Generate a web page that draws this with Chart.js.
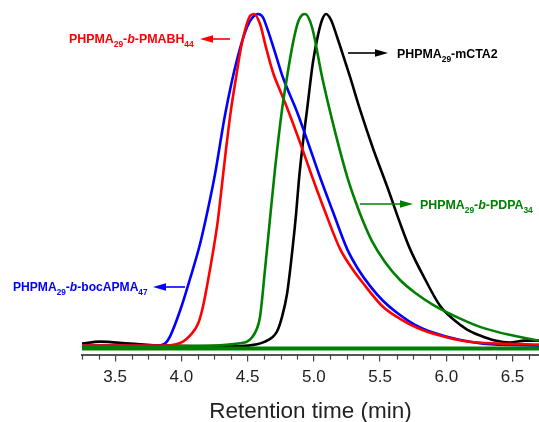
<!DOCTYPE html>
<html>
<head>
<meta charset="utf-8">
<script src="https://cdn.jsdelivr.net/npm/chart.js@4/dist/chart.umd.min.js"></script>
<style>
  body { margin: 0; background: #fff; }
  canvas { display: block; }
</style>
</head>
<body>
<canvas id="myChart" width="539" height="422"></canvas>
<script>
// retention time (min) and normalised detector signal
var pmabhTime = [3.25, 3.612, 3.877, 3.952, 4.012, 4.065, 4.126, 4.163, 4.194, 4.239, 4.277, 4.307, 4.337, 4.375, 4.413, 4.450, 4.481, 4.518, 4.549, 4.594, 4.639, 4.692, 4.745, 4.798, 4.896, 4.986, 5.092, 5.198, 5.281, 5.371, 5.522, 5.651, 5.779, 5.953, 6.157, 6.406, 6.70];
var pmabhVal = [0.009, 0.009, 0.009, 0.012, 0.021, 0.039, 0.074, 0.125, 0.1875, 0.289, 0.387, 0.491, 0.595, 0.714, 0.810, 0.899, 0.952, 0.994, 1.0, 0.970, 0.900, 0.825, 0.771, 0.720, 0.616, 0.515, 0.402, 0.298, 0.244, 0.196, 0.125, 0.089, 0.0625, 0.039, 0.021, 0.015, 0.012];

var bocTime = [3.25, 3.763, 3.840, 3.877, 3.914, 3.990, 4.065, 4.141, 4.201, 4.254, 4.330, 4.420, 4.496, 4.541, 4.579, 4.616, 4.654, 4.707, 4.767, 4.873, 4.956, 5.039, 5.145, 5.251, 5.334, 5.424, 5.522, 5.628, 5.764, 5.900, 6.089, 6.277, 6.70];
var bocVal = [0.009, 0.009, 0.010, 0.015, 0.036, 0.113, 0.208, 0.3125, 0.417, 0.521, 0.699, 0.863, 0.961, 0.991, 1.0, 0.990, 0.950, 0.885, 0.810, 0.708, 0.616, 0.521, 0.408, 0.298, 0.238, 0.1875, 0.143, 0.107, 0.071, 0.048, 0.027, 0.015, 0.009];

var pdpaTime = [3.25, 3.990, 4.292, 4.443, 4.496, 4.533, 4.571, 4.594, 4.632, 4.669, 4.707, 4.760, 4.798, 4.843, 4.881, 4.911, 4.934, 4.986, 5.062, 5.137, 5.251, 5.319, 5.371, 5.439, 5.537, 5.651, 5.764, 5.900, 6.126, 6.277, 6.504, 6.70];
var pdpaVal = [0.0045, 0.0075, 0.010, 0.016, 0.021, 0.033, 0.060, 0.095, 0.238, 0.387, 0.536, 0.714, 0.8125, 0.914, 0.976, 0.997, 1.0, 0.961, 0.8125, 0.685, 0.515, 0.435, 0.381, 0.321, 0.259, 0.205, 0.167, 0.131, 0.086, 0.062, 0.039, 0.024];

var ctaTime = [3.25, 3.386, 3.612, 3.862, 4.443, 4.571, 4.632, 4.684, 4.722, 4.760, 4.798, 4.835, 4.866, 4.888, 4.918, 4.949, 4.994, 5.032, 5.062, 5.092, 5.130, 5.175, 5.220, 5.273, 5.349, 5.447, 5.553, 5.651, 5.726, 5.839, 5.953, 6.066, 6.157, 6.255, 6.368, 6.481, 6.594, 6.70];
var ctaVal = [0.015, 0.021, 0.015, 0.009, 0.0075, 0.013, 0.021, 0.033, 0.051, 0.095, 0.164, 0.283, 0.402, 0.506, 0.616, 0.714, 0.857, 0.9375, 0.982, 1.0, 0.982, 0.932, 0.878, 0.8125, 0.714, 0.598, 0.485, 0.375, 0.298, 0.208, 0.128, 0.083, 0.057, 0.039, 0.024, 0.018, 0.024, 0.024];

var baseTime = [3.25, 6.7];
var baseVal = [0, 0];

var xTicks = [3.5, 4.0, 4.5, 5.0, 5.5, 6.0, 6.5];

function pts(t, v) {
    return t.map(function (x, i) { return { x: x, y: v[i] }; });
}

var FONT = '"Liberation Sans", Arial, sans-serif';

function drawRich(ctx, x, y, parts, color, size) {
    ctx.fillStyle = color;
    ctx.textAlign = "left";
    ctx.textBaseline = "alphabetic";
    parts.forEach(function (p) {
        var s = p.sub ? size * 0.68 : size;
        ctx.font = (p.it ? "italic bold " : "bold ") + s + "px " + FONT;
        ctx.fillText(p.t, x, y + (p.sub ? 3.5 : 0));
        x += ctx.measureText(p.t).width;
    });
}

function drawArrow(ctx, x1, x2, y, color) {
    var dir = x2 > x1 ? 1 : -1;
    ctx.strokeStyle = color;
    ctx.fillStyle = color;
    ctx.lineWidth = 1.6;
    ctx.beginPath();
    ctx.moveTo(x1, y);
    ctx.lineTo(x2 - dir * 8, y);
    ctx.stroke();
    ctx.beginPath();
    ctx.moveTo(x2, y);
    ctx.lineTo(x2 - dir * 13, y - 3.8);
    ctx.lineTo(x2 - dir * 13, y + 3.8);
    ctx.closePath();
    ctx.fill();
}

var labelsPlugin = {
    id: "labels",
    afterDraw: function (chart) {
        var ctx = chart.ctx;
        var xs = chart.scales.x;
        ctx.save();
        // minor ticks
        ctx.strokeStyle = "#444";
        ctx.lineWidth = 1.2;
        var bottom = chart.chartArea.bottom;
        for (var v = 3.25; v <= 6.7001; v += 0.125) {
            if (Math.abs(v * 2 - Math.round(v * 2)) < 1e-6) continue;
            var px = Math.round(xs.getPixelForValue(v)) + 0.5;
            ctx.beginPath();
            ctx.moveTo(px, bottom);
            ctx.lineTo(px, bottom + 5);
            ctx.stroke();
        }

        drawRich(ctx, 69, 43, [{ t: "PHPMA" }, { t: "29", sub: 1 }, { t: "-" }, { t: "b", it: 1 }, { t: "-PMABH" }, { t: "44", sub: 1 }], "#ff0000", 12.4);
        drawArrow(ctx, 230, 200, 39, "#ff0000");

        drawRich(ctx, 397, 58, [{ t: "PHPMA" }, { t: "29", sub: 1 }, { t: "-mCTA2" }], "#000000", 12.4);
        drawArrow(ctx, 348, 388, 53, "#000000");

        drawRich(ctx, 420, 209, [{ t: "PHPMA" }, { t: "29", sub: 1 }, { t: "-" }, { t: "b", it: 1 }, { t: "-PDPA" }, { t: "34", sub: 1 }], "#008000", 12.4);
        drawArrow(ctx, 360, 413, 204, "#008000");

        drawRich(ctx, 13, 291, [{ t: "PHPMA" }, { t: "29", sub: 1 }, { t: "-" }, { t: "b", it: 1 }, { t: "-bocAPMA" }, { t: "47", sub: 1 }], "#0000ff", 12.1);
        drawArrow(ctx, 185, 153, 287, "#0000ff");
        ctx.restore();
    }
};

var myChart = document.getElementById("myChart").getContext("2d");
var gpcChart = new Chart(myChart, {
    type: "line",
    data: {
        datasets: [{
            label: "baseline",
            data: pts(baseTime, baseVal),
            borderColor: "#008000",
            borderWidth: 4,
            clip: false
        }, {
            label: "PHPMA29-b-PDPA34",
            data: pts(pdpaTime, pdpaVal),
            borderColor: "#008000"
        }, {
            label: "PHPMA29-b-PMABH44",
            data: pts(pmabhTime, pmabhVal),
            borderColor: "#ff0000"
        }, {
            label: "PHPMA29-b-bocAPMA47",
            data: pts(bocTime, bocVal),
            borderColor: "#0000ff"
        }, {
            label: "PHPMA29-mCTA2",
            data: pts(ctaTime, ctaVal),
            borderColor: "#000000"
        }]
    },
    options: {
        responsive: false,
        animation: false,
        layout: { padding: { left: 82, right: 0, top: 0, bottom: 0 } },
        elements: {
            point: { radius: 0 },
            line: { borderWidth: 2.6, cubicInterpolationMode: "monotone", fill: false }
        },
        plugins: { legend: { display: false }, tooltip: { enabled: false } },
        scales: {
            x: {
                type: "linear",
                min: 3.25,
                max: 6.7,
                afterBuildTicks: function (axis) {
                    axis.ticks = xTicks.map(function (v) { return { value: v }; });
                },
                ticks: {
                    font: { family: FONT, size: 17 },
                    color: "#222",
                    padding: 6,
                    maxRotation: 0,
                    callback: function (v) { return v.toFixed(1); }
                },
                grid: { display: true, drawOnChartArea: false, tickLength: 7, color: "#444", lineWidth: 1.2 },
                border: { display: true, color: "#555", width: 2 },
                title: {
                    display: true,
                    text: "Retention time (min)",
                    font: { family: FONT, size: 22.5 },
                    color: "#222",
                    padding: { top: 4, bottom: -3 }
                }
            },
            y: {
                display: false,
                min: -0.0179,
                max: 1.0417
            }
        }
    },
    plugins: [labelsPlugin]
});
</script>
</body>
</html>
